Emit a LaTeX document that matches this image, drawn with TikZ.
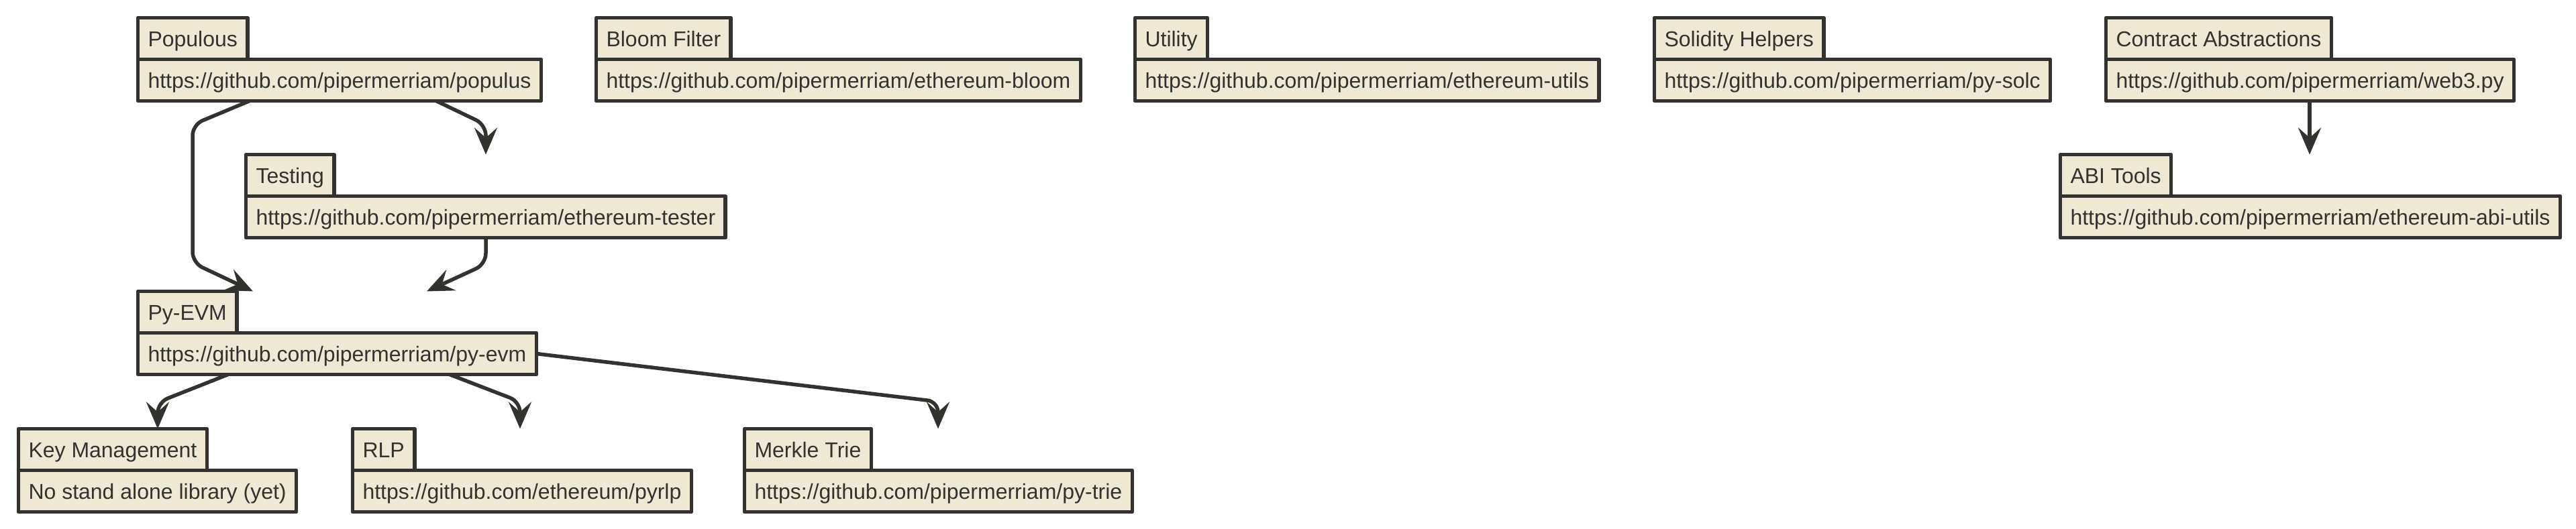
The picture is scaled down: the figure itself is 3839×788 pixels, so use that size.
\documentclass[tikz,border=0pt]{standalone}
\usepackage{fontspec}
\setmainfont{Liberation Sans}
\usetikzlibrary{arrows.meta,calc}
\definecolor{ink}{RGB}{51,50,46}
\definecolor{paper}{RGB}{238,232,213}
\tikzset{
  cell/.style={draw=ink, fill=paper, line width=5.5pt, rectangle, inner xsep=15pt, inner ysep=0pt, outer sep=0pt,
    minimum height=62pt, text height=26pt, text depth=1.5pt, font=\fontsize{32}{38}\selectfont, text=ink, line join=round},
  tabcell/.style={cell, anchor=south west},
  urlcell/.style={cell, anchor=north west},
  dep/.style={draw=ink, line width=5.5pt, rounded corners=16pt, line join=round,
    -{Stealth[length=40pt, width=34pt, inset=15pt]}},
}
\newcommand\libbox[5]{%
  \node[tabcell] (#1t) at (#2,#3) {#4};
  \node[urlcell] (#1b) at (#2,#3) {#5};
}
\begin{document}
\begin{tikzpicture}[x=1pt,y=-1pt]
\useasboundingbox (0,0) rectangle (3839,788);
\libbox{pop}{205.5}{88.5}{Populous}{https://github.com/pipermerriam/populus}
\libbox{blm}{888.5}{88.5}{Bloom Filter}{https://github.com/pipermerriam/ethereum-bloom}
\libbox{utl}{1691.5}{88.5}{Utility}{https://github.com/pipermerriam/ethereum-utils}
\libbox{sol}{2465.5}{88.5}{Solidity Helpers}{https://github.com/pipermerriam/py-solc}
\libbox{con}{3138.5}{88.5}{Contract Abstractions}{https://github.com/pipermerriam/web3.py}
\libbox{tst}{366.5}{292.5}{Testing}{https://github.com/pipermerriam/ethereum-tester}
\libbox{abi}{3070.5}{292.5}{ABI Tools}{https://github.com/pipermerriam/ethereum-abi-utils}
\libbox{evm}{205.5}{496.5}{Py-EVM}{https://github.com/pipermerriam/py-evm}
\libbox{key}{27.5}{701.5}{Key Management}{No stand alone library (yet)}
\libbox{rlp}{525.5}{701.5}{RLP}{https://github.com/ethereum/pyrlp}
\libbox{mkl}{1109.5}{701.5}{Merkle Trie}{https://github.com/pipermerriam/py-trie}

\draw[dep] ($(popb.south west)+(166.5,0)$) -- (287,186) -- (287,392) -- ($(evmt.north west)+(171.5,0)$);
\draw[dep] ($(popb.south west)+(444.5,0)$) -- (724,186) -- ($(tstt.north west)+(357.5,0)$);
\draw[dep] ($(tstb.south west)+(357.5,0)$) -- (724,394) -- ($(evmt.north west)+(430.5,0)$);
\draw[dep] ($(evmb.south west)+(134.5,0)$) -- (235,600) -- ($(keyt.north west)+(207.5,0)$);
\draw[dep] ($(evmb.south west)+(464.5,0)$) -- (775,599) -- ($(rlpt.north west)+(249.5,0)$);
\draw[dep] (evmb.east) -- (1398,599) -- ($(mklt.north west)+(288.5,0)$);
\draw[dep] ($(conb.south west)+(303.5,0)$) -- ($(abit.north west)+(371.5,0)$);
\end{tikzpicture}
\end{document}
